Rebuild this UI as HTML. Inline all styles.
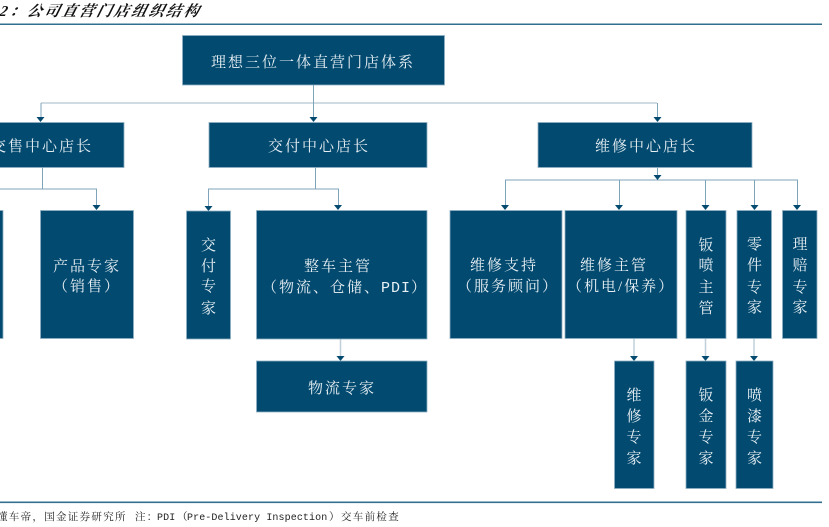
<!DOCTYPE html>
<html><head><meta charset="utf-8"><style>
html,body{margin:0;padding:0;background:#fff;width:829px;height:527px;overflow:hidden}
svg{display:block}
.t{font-family:"Liberation Serif","Noto Serif CJK SC",serif;font-size:15px;fill:#e9f0f4;letter-spacing:2px}
.v{font-family:"Liberation Serif","Noto Serif CJK SC",serif;font-size:15px;fill:#e9f0f4;text-anchor:middle}
.b{fill:#024a70;stroke:#8fb0c4;stroke-width:.8}
.l{stroke:#7fa3b8;stroke-width:1;fill:none}
.a{fill:#024a70}
</style></head><body>
<svg width="829" height="527" viewBox="0 0 829 527" xmlns="http://www.w3.org/2000/svg">
<text x="-8" y="16" transform="translate(1,0) skewX(-14)" font-family="'Liberation Serif','Noto Serif CJK SC',serif" font-size="15" font-weight="700" font-style="italic" fill="#111" letter-spacing="2.4">42：公司直营门店组织结构</text>
<rect x="0" y="23.5" width="822" height="1.5" fill="#33708f"/>
<rect x="0" y="501.5" width="822" height="1.6" fill="#33708f"/>

<!-- connectors -->
<path class="l" style="stroke:#bfd0db;stroke-width:1.5" d="M41 103H657"/>
<path class="l" d="M41 103V118M313.500 85V118M657.500 103V118"/>
<path class="l" d="M42.500 167V189M0 189H96.500V206M315.500 167V189M208.500 206V189H338.500V206"/>
<path class="l" d="M657.500 168V176M505.500 206V180H797.500V206M619.500 180V206M705.500 180V206M754.500 180V206"/>
<path class="l" style="stroke:#bfd0db;stroke-width:1.5" d="M340.500 339V357M634 338V357M705.500 338V357M754 338V357"/>
<g class="a">
<path d="M36.500 117h8l-4 5z"/><path d="M309.500 117h8l-4 5z"/><path d="M653.500 117h8l-4 5z"/>
<path d="M92.500 205h8l-4 5z"/><path d="M204.500 206h8l-4 5z"/><path d="M334 205h8l-4 5z"/>
<path d="M653.500 175h8l-4 5z"/>
<path d="M501 205h8l-4 5z"/><path d="M615 205h8l-4 5z"/><path d="M701.500 205h8l-4 5z"/><path d="M750.500 205h8l-4 5z"/><path d="M793 205h8l-4 5z"/>
<path d="M336.500 356h8l-4 5z"/><path d="M630 356h8l-4 5z"/><path d="M701.500 356h8l-4 5z"/><path d="M750 356h8l-4 5z"/>
</g>

<!-- boxes -->
<rect class="b" x="182.500" y="35.500" width="262" height="49.500"/>
<rect class="b" x="-2" y="122.500" width="126" height="45"/>
<rect class="b" x="209" y="122.500" width="218" height="45"/>
<rect class="b" x="538" y="122.500" width="214" height="45"/>
<rect class="b" x="-2" y="210.500" width="5" height="128"/>
<rect class="b" x="40.500" y="210.500" width="93" height="128"/>
<rect class="b" x="186.500" y="211" width="44" height="128"/>
<rect class="b" x="256.500" y="210.500" width="170.500" height="128.500"/>
<rect class="b" x="450" y="210.500" width="112" height="128"/>
<rect class="b" x="565" y="210.500" width="112" height="128"/>
<rect class="b" x="686" y="210.500" width="40" height="128"/>
<rect class="b" x="737" y="210.500" width="34.500" height="128"/>
<rect class="b" x="782.500" y="210.500" width="34.500" height="128"/>
<rect class="b" x="256.500" y="361" width="170.500" height="51"/>
<rect class="b" x="614.500" y="361" width="39.500" height="127.500"/>
<rect class="b" x="686" y="361" width="40" height="127.500"/>
<rect class="b" x="736" y="361" width="37" height="127.500"/>

<!-- horizontal labels -->
<text class="t" x="211" y="67">理想三位一体直营门店体系</text>
<text class="t" x="-9" y="151">交售中心店长</text>
<text class="t" x="268" y="151">交付中心店长</text>
<text class="t" x="595" y="151">维修中心店长</text>
<text class="t" x="53" y="271">产品专家</text>
<text class="t" x="53" y="291">（销售）</text>
<text class="t" x="304" y="271">整车主管</text>
<text class="t" x="262" y="292">（物流、仓储、<tspan font-family="'Liberation Mono',monospace" letter-spacing="1">PDI</tspan>）</text>
<text class="t" x="308" y="393">物流专家</text>
<text class="t" x="470" y="270">维修支持</text>
<text class="t" x="457" y="291">（服务顾问）</text>
<text class="t" x="580" y="270">维修主管</text>
<text class="t" x="567" y="291">（机电/保养）</text>

<!-- vertical labels -->
<g class="v">
<text class="v" x="208.500" y="250">交</text><text class="v" x="208.500" y="271">付</text><text class="v" x="208.500" y="291">专</text><text class="v" x="208.500" y="313">家</text>
<text class="v" x="706" y="250">钣</text><text class="v" x="706" y="270">喷</text><text class="v" x="706" y="292">主</text><text class="v" x="706" y="313">管</text>
<text class="v" x="754.500" y="249">零</text><text class="v" x="754.500" y="270">件</text><text class="v" x="754.500" y="292">专</text><text class="v" x="754.500" y="312">家</text>
<text class="v" x="800" y="249">理</text><text class="v" x="800" y="270">赔</text><text class="v" x="800" y="292">专</text><text class="v" x="800" y="312">家</text>
<text class="v" x="634" y="400">维</text><text class="v" x="634" y="421">修</text><text class="v" x="634" y="442">专</text><text class="v" x="634" y="463">家</text>
<text class="v" x="706" y="400">钣</text><text class="v" x="706" y="421">金</text><text class="v" x="706" y="442">专</text><text class="v" x="706" y="463">家</text>
<text class="v" x="754.500" y="400">喷</text><text class="v" x="754.500" y="421">漆</text><text class="v" x="754.500" y="442">专</text><text class="v" x="754.500" y="463">家</text>
</g>

<!-- footer -->
<g font-family="'Liberation Mono','Noto Serif CJK SC',monospace" font-size="10.500" fill="#222">
<text x="-3" y="520" letter-spacing="1.300">懂车帝，国金证券研究所</text>
<text x="135" y="520" letter-spacing="1.300">注：</text>
<text x="157" y="520" font-size="10" letter-spacing=".1">PDI</text>
<text x="177" y="520">（</text>
<text x="187" y="520" font-size="10" letter-spacing=".1">Pre-Delivery Inspection</text>
<text x="329" y="520">）</text>
<text x="341" y="520" letter-spacing="1.300">交车前检查</text>
</g>
</svg>
</body></html>
